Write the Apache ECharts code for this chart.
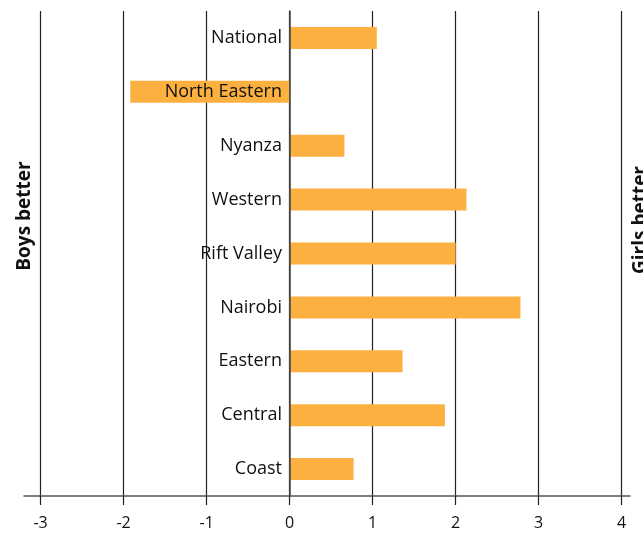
<!DOCTYPE html>
<html><head><meta charset="utf-8">
<script src="https://cdn.jsdelivr.net/npm/echarts@6/dist/echarts.min.js"></script>
<style>html,body{margin:0;padding:0;background:#fff}#c{width:643px;height:535px}</style>
</head><body><div id="c"></div>
<script>
const categories = ['Coast','Central','Eastern','Nairobi','Rift Valley','Western','Nyanza','North Eastern','National'];
const values = [0.77, 1.87, 1.36, 2.78, 2.0, 2.13, 0.66, -1.92, 1.05];
const tickValues = [-3,-2,-1,0,1,2,3,4];
const leftTitle = 'Boys better';
const rightTitle = 'Girls better';

const chart = echarts.init(document.getElementById('c'));
chart.setOption({
  animation:false,
  grid:{left:24,right:13,top:11,bottom:39,containLabel:false,outerBoundsMode:'none'},
  xAxis:{type:'value',min:-3.2,max:4.1,
    axisLine:{show:true,lineStyle:{color:'#555',width:1.5}},
    axisTick:{show:true,length:9,customValues:tickValues,lineStyle:{color:'#222',width:1.2}},
    axisLabel:{customValues:tickValues,color:'#111',fontFamily:'Open Sans',fontSize:16,margin:19},
    splitLine:{show:true,lineStyle:{color:'#222',width:1.2}}
  },
  yAxis:{type:'category',data:categories,offset:-266,
    axisLine:{show:true,onZero:false,lineStyle:{color:'#444',width:1.5}},
    axisTick:{show:false},
    axisLabel:{color:'#111',fontFamily:'Open Sans',fontSize:18,margin:8},
    z:5
  },
  series:[{type:'bar',data:values,barWidth:22,itemStyle:{color:'#fbb040'},z:2}],
  graphic:[
    {type:'text',x:25,y:216,rotation:Math.PI/2,style:{text:leftTitle,font:'bold 19px "Open Sans"',fill:'#111',align:'center',verticalAlign:'middle'}},
    {type:'text',x:641,y:220,rotation:Math.PI/2,style:{text:rightTitle,font:'bold 19px "Open Sans"',fill:'#111',align:'center',verticalAlign:'middle'}}
  ]
});
</script></body></html>
